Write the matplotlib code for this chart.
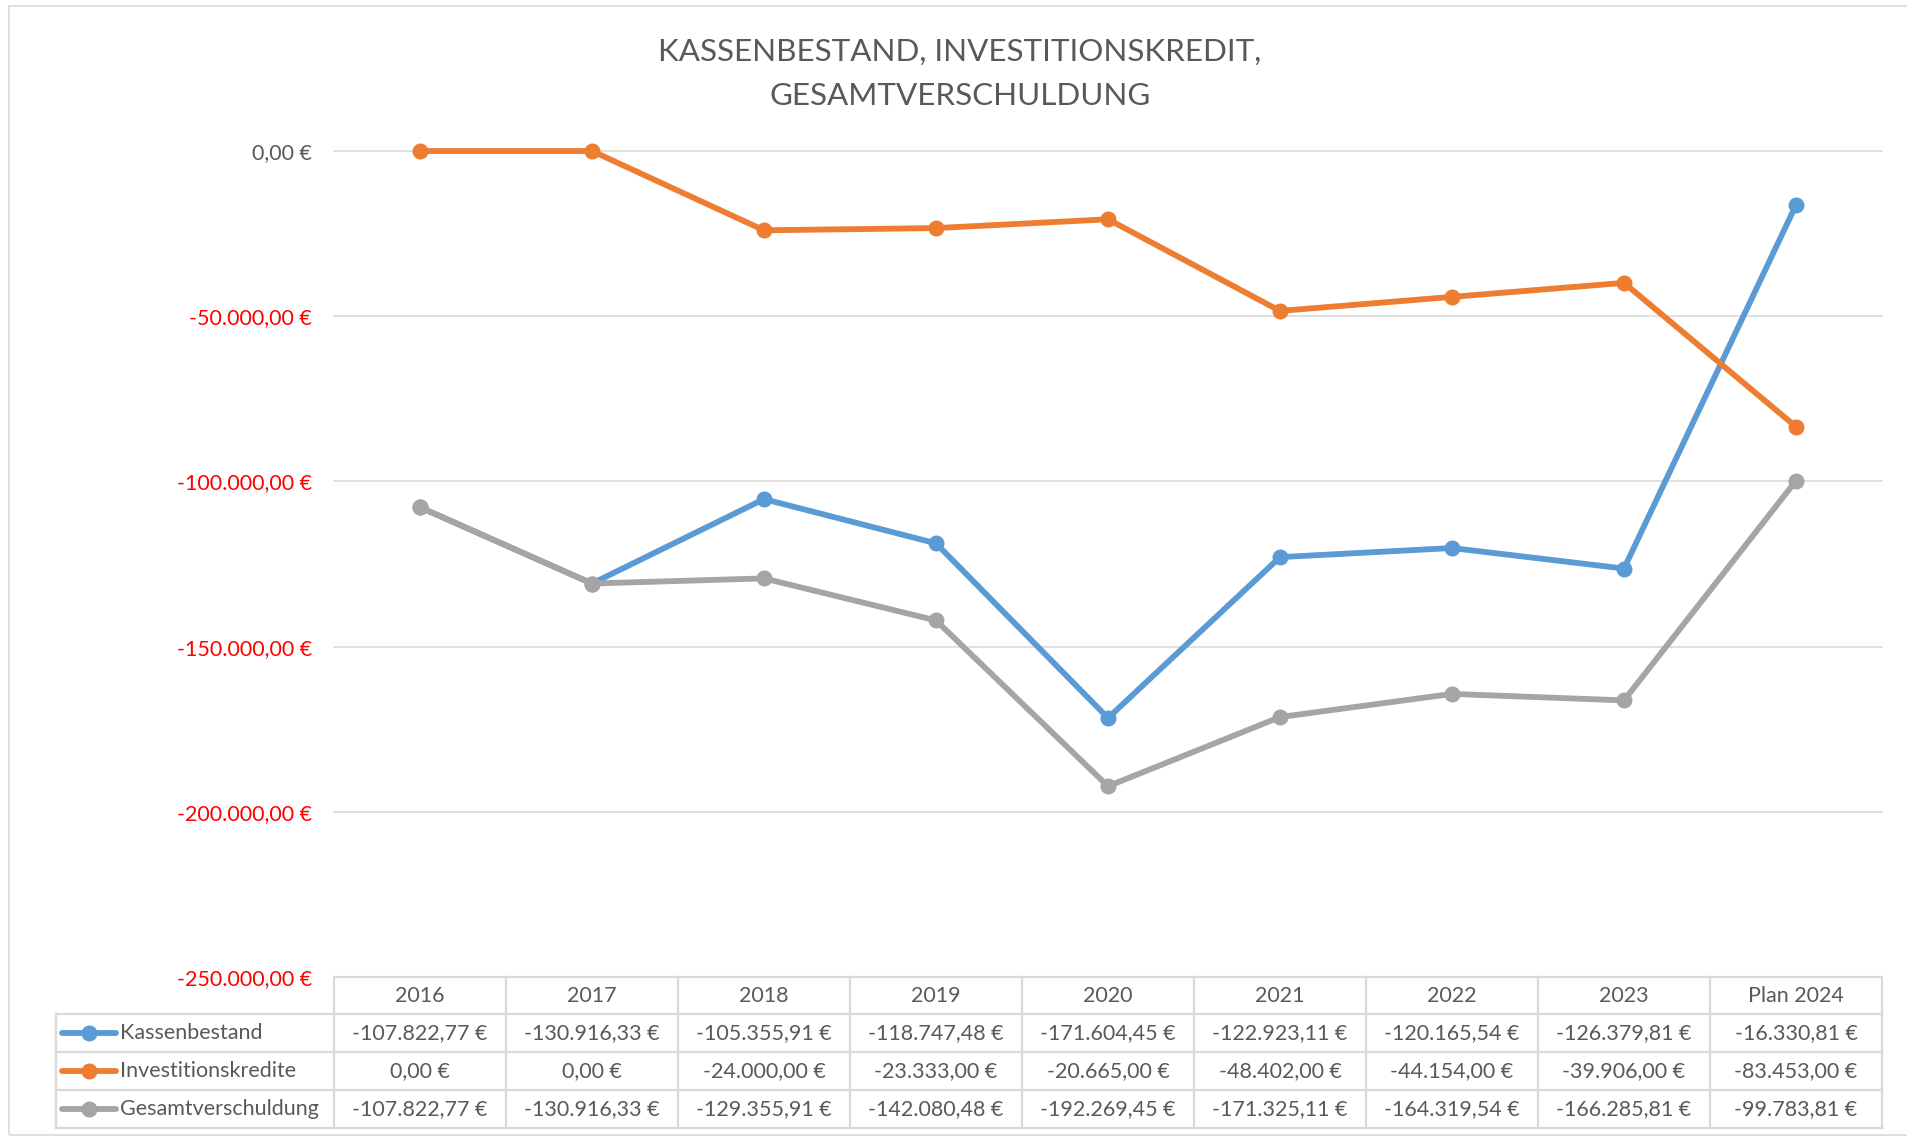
import matplotlib
matplotlib.use("Agg")
import matplotlib.pyplot as plt
from matplotlib.lines import Line2D
from matplotlib.patches import Rectangle

# ---- data ----
categories = ["2016", "2017", "2018", "2019", "2020", "2021", "2022", "2023", "Plan 2024"]
kassenbestand = [-107822.77, -130916.33, -105355.91, -118747.48, -171604.45,
                 -122923.11, -120165.54, -126379.81, -16330.81]
investitionskredite = [0.00, 0.00, -24000.00, -23333.00, -20665.00,
                       -48402.00, -44154.00, -39906.00, -83453.00]
gesamtverschuldung = [-107822.77, -130916.33, -129355.91, -142080.48, -192269.45,
                      -171325.11, -164319.54, -166285.81, -99783.81]
series_names = ["Kassenbestand", "Investitionskredite", "Gesamtverschuldung"]
y_ticks = [0, -50000, -100000, -150000, -200000, -250000]
title_lines = ["KASSENBESTAND, INVESTITIONSKREDIT,", "GESAMTVERSCHULDUNG"]

colors = ["#5B9BD5", "#ED7D31", "#A5A5A5"]
TEXT = "#595959"
GRID = "#D9D9D9"
FONT = ["Lato", "DejaVu Sans"]
FS = 15.5

W, H = 1907, 1137


def fx(x):
    return x / W


def fy(y):
    return 1 - y / H


def eur(v):
    s = f"{v:,.2f}".replace(",", "X").replace(".", ",").replace("X", ".")
    return s + " €"


fig = plt.figure(figsize=(W / 100, H / 100), dpi=100)
fig.patch.set_facecolor("white")

# outer chart border
fig.add_artist(Rectangle((fx(9), fy(1135)), fx(W + 10) - fx(9), fy(6) - fy(1135),
                         transform=fig.transFigure, fill=False, edgecolor=GRID, lw=1.2))

ax_left, ax_right, ax_top, ax_bottom = 334, 1882, 151, 977
ax = fig.add_axes([fx(ax_left), fy(ax_bottom), fx(ax_right) - fx(ax_left), fy(ax_top) - fy(ax_bottom)])
ax.set_xlim(-0.5, len(categories) - 0.5)
ax.set_ylim(-250000, 0)
for sp in ax.spines.values():
    sp.set_visible(False)
ax.set_xticks([])
ax.set_yticks(y_ticks)
ax.set_yticklabels([eur(v) for v in y_ticks])
ax.tick_params(axis="y", length=0, pad=16)
for lab, v in zip(ax.get_yticklabels(), y_ticks):
    lab.set_fontfamily(FONT)
    lab.set_fontsize(FS)
    lab.set_color(TEXT if v == 0 else "#FF0000")
for v in y_ticks:
    ax.axhline(v, color=GRID, lw=1.1, zorder=0, clip_on=False)

x = list(range(len(categories)))
for vals, c in zip([kassenbestand, investitionskredite, gesamtverschuldung], colors):
    ax.plot(x, vals, color=c, lw=4.2, marker="o", markersize=10.5,
            solid_capstyle="round", clip_on=False, zorder=3)

# title
fig.text(fx(960), fy(52), title_lines[0], ha="center", va="center",
         fontsize=22.6, color=TEXT, family=FONT)
fig.text(fx(960), fy(96), title_lines[1], ha="center", va="center",
         fontsize=22.6, color=TEXT, family=FONT)

# data table
row_edges = [977, 1014, 1052, 1090, 1128]
leg_left = 56
tlw = 1.6
# horizontal lines
fig.add_artist(Line2D([fx(ax_left), fx(ax_right)], [fy(row_edges[0])] * 2,
                      transform=fig.transFigure, color=GRID, lw=tlw))
for ry in row_edges[1:]:
    fig.add_artist(Line2D([fx(leg_left), fx(ax_right)], [fy(ry)] * 2,
                          transform=fig.transFigure, color=GRID, lw=tlw))
# vertical lines
colw = (ax_right - ax_left) / len(categories)
for i in range(len(categories) + 1):
    xx = ax_left + i * colw
    fig.add_artist(Line2D([fx(xx)] * 2, [fy(row_edges[0]), fy(row_edges[-1])],
                          transform=fig.transFigure, color=GRID, lw=tlw))
fig.add_artist(Line2D([fx(leg_left)] * 2, [fy(row_edges[1]), fy(row_edges[-1])],
                      transform=fig.transFigure, color=GRID, lw=tlw))

# header
hy = (row_edges[0] + row_edges[1]) / 2
for i, cat in enumerate(categories):
    cx = ax_left + (i + 0.5) * colw
    fig.text(fx(cx), fy(hy), cat, ha="center", va="center", fontsize=FS,
             color=TEXT, family=FONT)

all_series = [kassenbestand, investitionskredite, gesamtverschuldung]
for r, (name, vals, c) in enumerate(zip(series_names, all_series, colors)):
    ry = (row_edges[r + 1] + row_edges[r + 2]) / 2
    fig.add_artist(Line2D([fx(62), fx(116)], [fy(ry)] * 2, transform=fig.transFigure,
                          color=c, lw=4.2, solid_capstyle="round"))
    fig.add_artist(Line2D([fx(89)], [fy(ry)], transform=fig.transFigure,
                          color=c, marker="o", markersize=10.5, lw=0))
    fig.text(fx(120), fy(ry), name, ha="left", va="center", fontsize=FS,
             color=TEXT, family=FONT)
    for i, v in enumerate(vals):
        cx = ax_left + (i + 0.5) * colw
        fig.text(fx(cx), fy(ry), eur(v), ha="center", va="center", fontsize=FS,
                 color=TEXT, family=FONT)

fig.savefig("out.png", dpi=100, facecolor="white")
